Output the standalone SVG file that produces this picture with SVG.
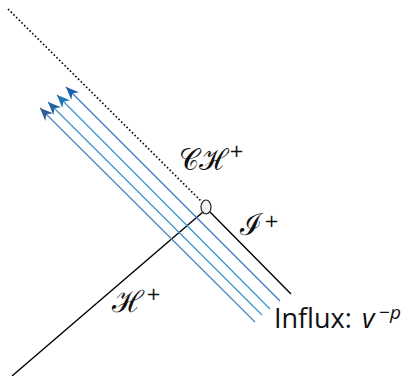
<svg xmlns="http://www.w3.org/2000/svg" width="411" height="376" viewBox="0 0 411 376">
<style>
.bl{stroke:#000;stroke-width:1.4;fill:none}
.dot{stroke:#000;stroke-width:1.6;stroke-dasharray:1.6 2.2;fill:none}
.ray{stroke-width:1.2;fill:none}
.cal{font-family:"DejaVu Serif","Liberation Serif",serif;fill:#111}
.sup{font-family:"DejaVu Sans","Liberation Sans",sans-serif;fill:#111}
.lbl{font-family:"Open Sans","Liberation Sans",sans-serif;fill:#111}
</style>
<defs>
<marker id="a1" viewBox="-14 -6 15 12" refX="0" refY="0" markerWidth="15" markerHeight="12" markerUnits="userSpaceOnUse" orient="auto"><path d="M0,0 L-13,-5.5 L-9,0 L-13,5.5 Z" fill="#2d5f99"/></marker>
<marker id="a2" viewBox="-14 -6 15 12" refX="0" refY="0" markerWidth="15" markerHeight="12" markerUnits="userSpaceOnUse" orient="auto"><path d="M0,0 L-13,-5.5 L-9,0 L-13,5.5 Z" fill="#22649f"/></marker>
<marker id="a3" viewBox="-14 -6 15 12" refX="0" refY="0" markerWidth="15" markerHeight="12" markerUnits="userSpaceOnUse" orient="auto"><path d="M0,0 L-13,-5.5 L-9,0 L-13,5.5 Z" fill="#1d73b3"/></marker>
<marker id="a4" viewBox="-14 -6 15 12" refX="0" refY="0" markerWidth="15" markerHeight="12" markerUnits="userSpaceOnUse" orient="auto"><path d="M0,0 L-13,-5.5 L-9,0 L-13,5.5 Z" fill="#1a5fb0"/></marker>
</defs>
<g id="connectors">
<line class="dot" x1="8" y1="9" x2="202" y2="202"/>
<line class="bl" x1="203" y1="212" x2="12" y2="376"/>
<line class="bl" x1="210" y1="212" x2="291" y2="294"/>
<line class="ray" stroke="#4a86bd" x1="255" y1="322" x2="40" y2="108" marker-end="url(#a1)"/>
<line class="ray" stroke="#3a93cf" x1="262" y1="315" x2="48" y2="102" marker-end="url(#a2)"/>
<line class="ray" stroke="#2e98d2" x1="270" y1="309" x2="57" y2="95" marker-end="url(#a3)"/>
<line class="ray" stroke="#3a78c4" x1="280" y1="301" x2="66" y2="87" marker-end="url(#a4)"/>
</g>
<g id="vertex">
<ellipse cx="206" cy="207" rx="5" ry="7" fill="#f2f2f2" stroke="#222" stroke-width="1.2"/>
</g>
<g id="label-CH">
<text class="cal" x="179" y="170" font-size="30" textLength="45" lengthAdjust="spacingAndGlyphs">𝒞ℋ</text>
<text class="sup" x="229" y="157" font-size="18">+</text>
</g>
<g id="label-I">
<text class="cal" x="240" y="235" font-size="30">ℐ</text>
<text class="sup" x="264" y="227" font-size="18">+</text>
</g>
<g id="label-H">
<text class="cal" x="112" y="312" font-size="30">ℋ</text>
<text class="sup" x="146" y="300" font-size="18">+</text>
</g>
<g id="label-influx">
<text class="lbl" x="274" y="328" font-size="27">Influx:</text>
<text class="lbl" x="362" y="328" font-size="27" font-style="italic">v</text>
<text class="lbl" x="379" y="319" font-size="19">−<tspan font-style="italic">p</tspan></text>
</g>
</svg>
